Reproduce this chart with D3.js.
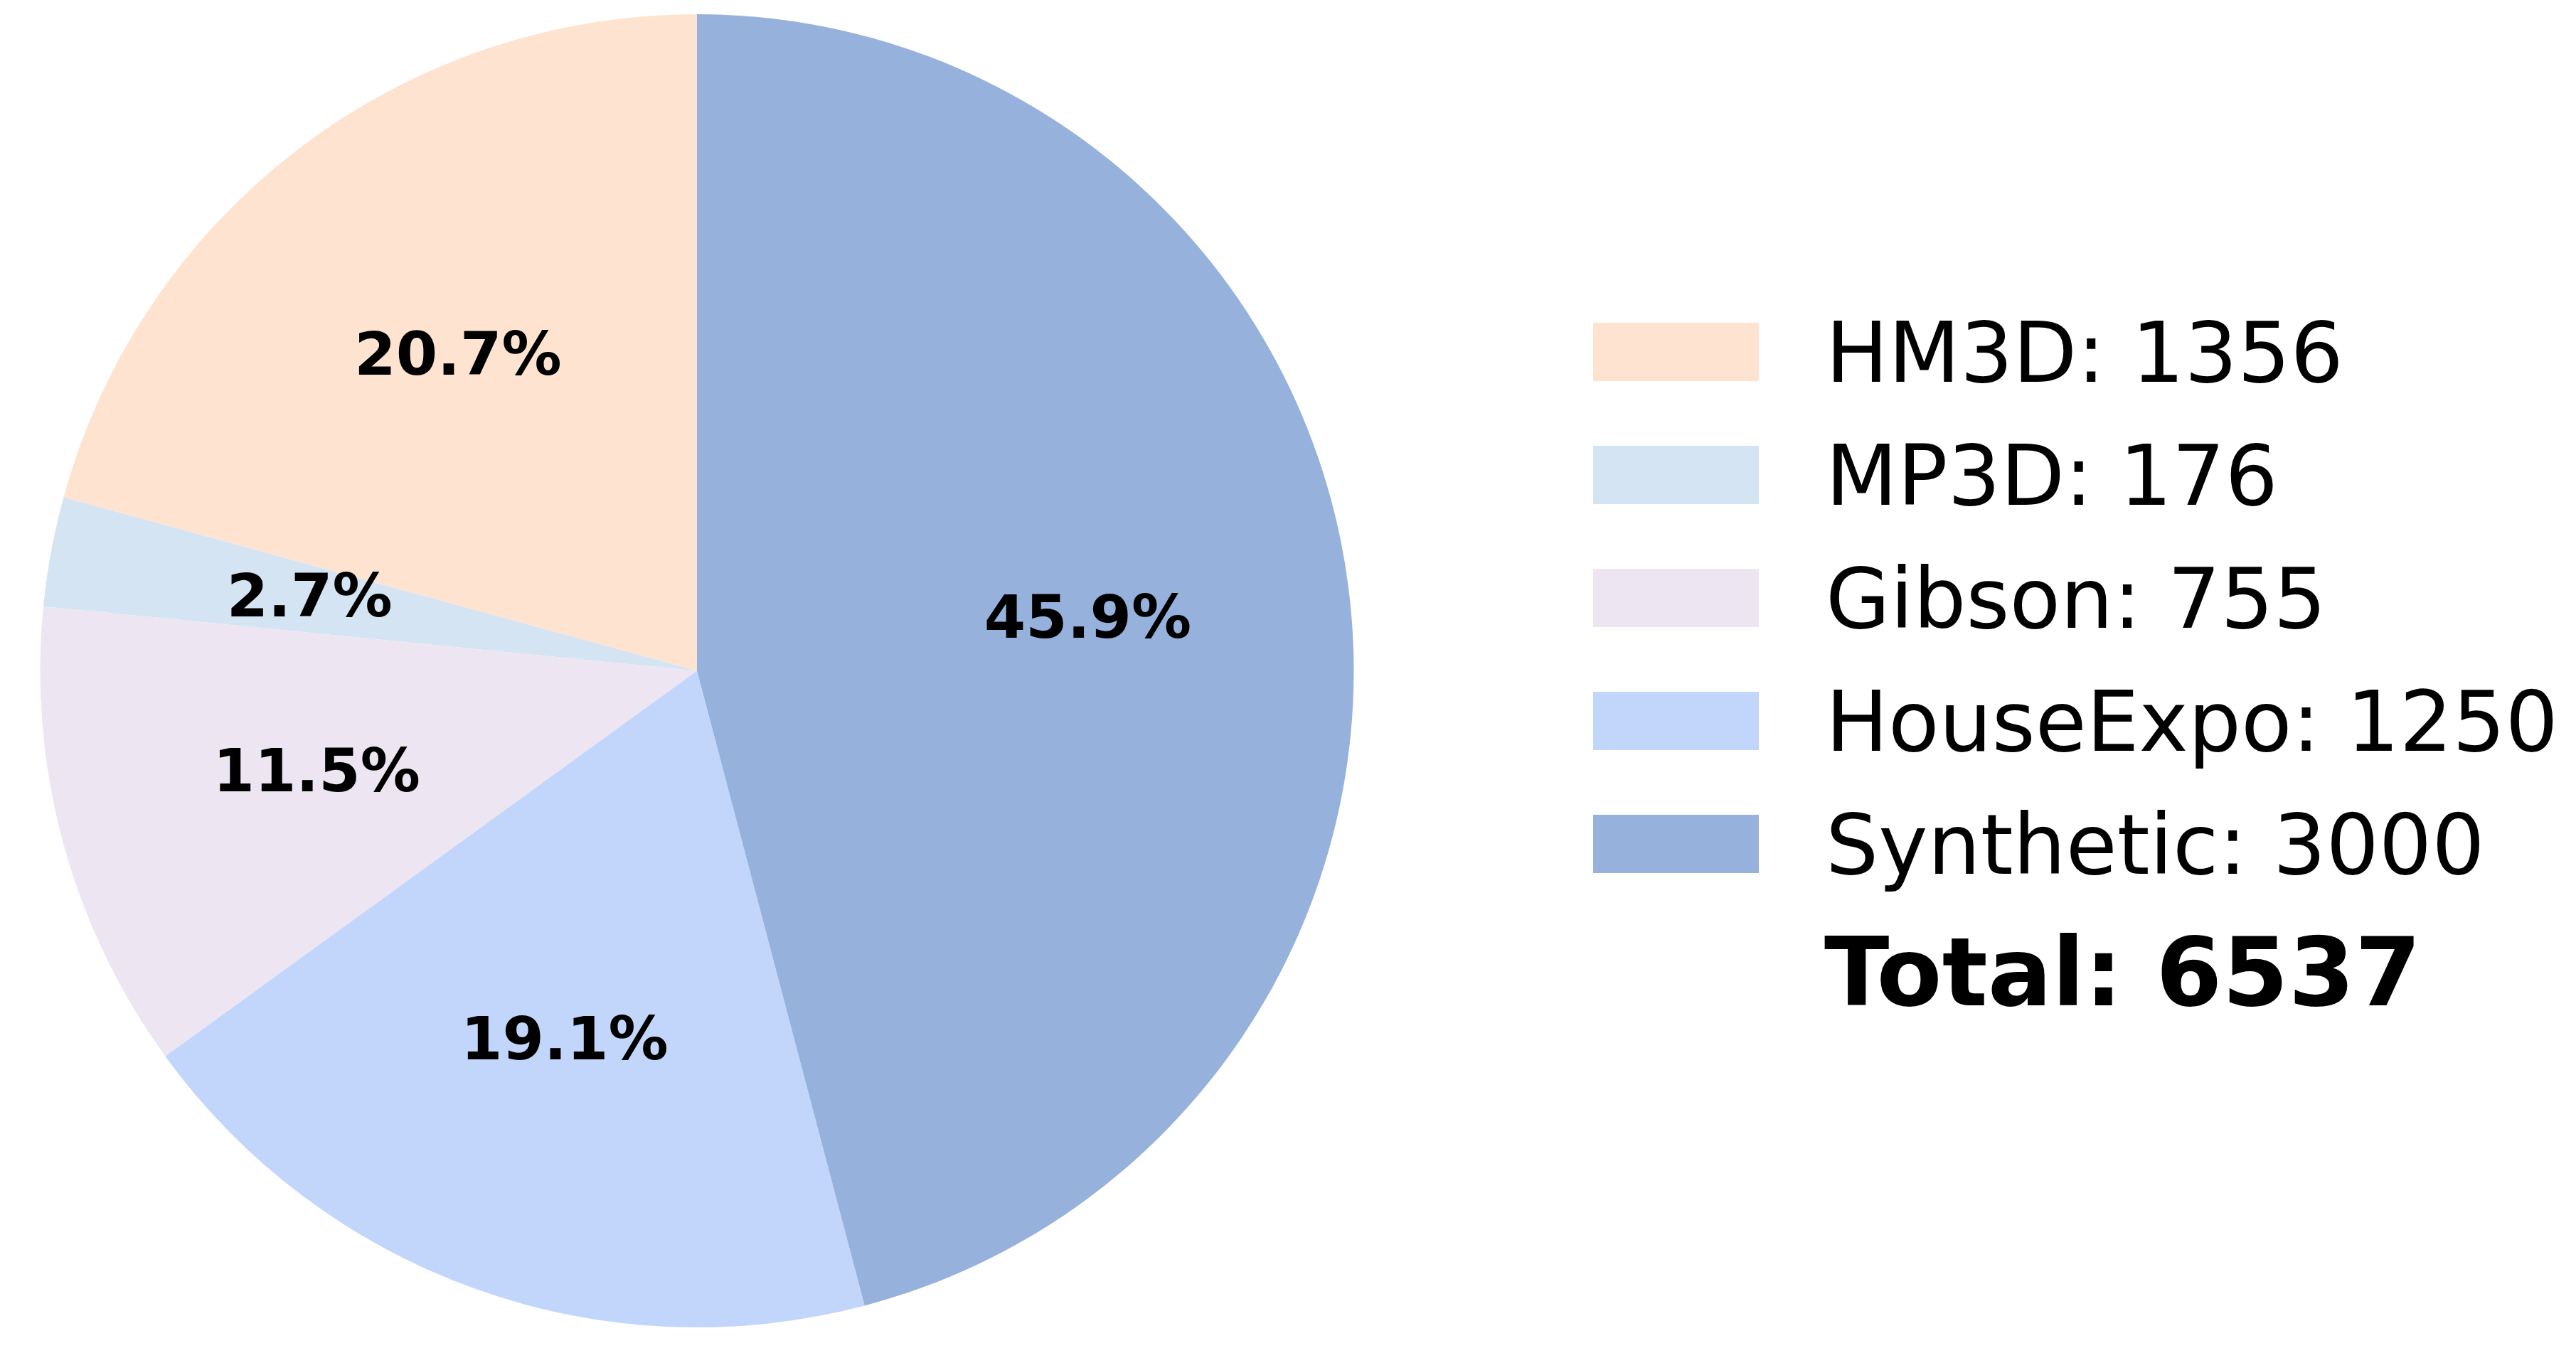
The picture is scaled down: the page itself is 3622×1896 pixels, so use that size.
<!DOCTYPE html>
<html>
<head>
<meta charset="utf-8">
<script src="https://cdn.jsdelivr.net/npm/d3@7"></script>
<style>
  body { margin: 0; background: #fff; }
  text { font-family: "DejaVu Sans", sans-serif; }
</style>
</head>
<body>
<div id="vis"></div>
<script>
// Data
var categories = ["HM3D", "MP3D", "Gibson", "HouseExpo", "Synthetic"];
var counts = [1356, 176, 755, 1250, 3000];
var colors = ["#fee4d0", "#d4e4f3", "#ede6f2", "#c2d6fc", "#96b2dc"];

var width = 3622, height = 1896;
var cx = 980, cy = 943.5, radius = 923.5;

var total = d3.sum(counts);
var pctFormat = d3.format(".1f");

var svg = d3.select("#vis").append("svg")
    .attr("width", width)
    .attr("height", height);

// counter-clockwise from 12 o'clock, like matplotlib startangle=90
var pie = d3.pie().sort(null).startAngle(0).endAngle(-2 * Math.PI);
var arcs = pie(counts);

var arc = d3.arc().innerRadius(0).outerRadius(radius);
var labelArc = d3.arc().innerRadius(radius * 0.6).outerRadius(radius * 0.6);

var g = svg.append("g").attr("transform", "translate(" + cx + "," + cy + ")");

g.selectAll(".slice")
  .data(arcs)
  .enter().append("path")
    .attr("class", "slice")
    .attr("d", arc)
    .style("fill", function(d, i) { return colors[i]; });

g.selectAll(".pct")
  .data(arcs)
  .enter().append("text")
    .attr("class", "pct")
    .attr("transform", function(d) {
      var c = labelArc.centroid(d);
      return "translate(" + c[0] + "," + c[1] + ")";
    })
    .attr("text-anchor", "middle")
    .attr("dy", "0.29em")
    .attr("font-size", 84)
    .attr("font-weight", "bold")
    .text(function(d) { return pctFormat(d.value / total * 100) + "%"; });

// Legend
var legendX = 2240, legendY = 454, rowStep = 173;
var legend = svg.append("g").attr("transform", "translate(" + legendX + "," + legendY + ")");

var rows = legend.selectAll(".row")
  .data(categories)
  .enter().append("g")
    .attr("class", "row")
    .attr("transform", function(d, i) { return "translate(0," + (i * rowStep) + ")"; });

rows.append("rect")
    .attr("width", 233)
    .attr("height", 82)
    .style("fill", function(d, i) { return colors[i]; });

rows.append("text")
    .attr("x", 327)
    .attr("y", 83)
    .attr("font-size", 117)
    .text(function(d, i) { return d + ": " + counts[i]; });

legend.append("text")
    .attr("x", 325)
    .attr("y", 960)
    .attr("font-size", 134)
    .attr("font-weight", "bold")
    .text("Total: " + total);
</script>
</body>
</html>
